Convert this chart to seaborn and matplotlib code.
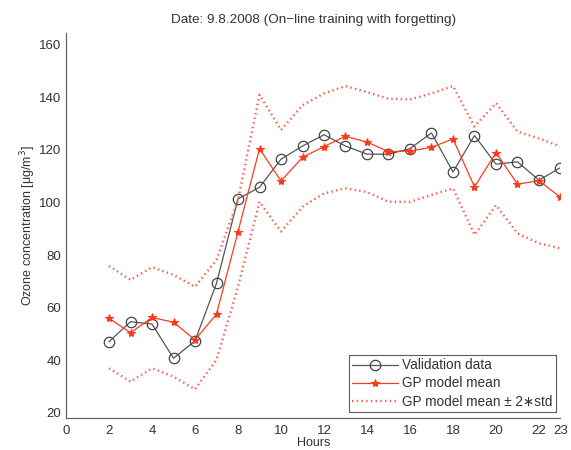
import numpy as np
import pandas as pd
import matplotlib.pyplot as plt
import seaborn as sns

# hourly values (9.8.2008)
hours = list(range(2, 24))
validation = [47.1, 54.7, 53.8, 40.8, 47.4, 69.3, 101.4, 105.8, 116.5, 121.5, 125.8, 121.5,
              118.4, 118.4, 120.5, 126.5, 111.6, 125.5, 114.6, 115.5, 108.5, 113.3]
gp_mean = [56.0, 50.5, 56.3, 54.5, 47.8, 57.6, 88.9, 120.5, 108.2, 117.2, 121.3, 125.2,
           123.0, 119.4, 119.6, 121.0, 124.2, 106.0, 119.0, 107.0, 108.3, 102.0]
gp_upper = [75.9, 70.6, 75.4, 72.5, 68.0, 78.2, 101.0, 141.0, 127.6, 137.0, 141.5, 144.3,
            142.0, 139.5, 139.2, 141.5, 144.3, 128.9, 137.8, 127.0, 124.4, 121.3]
gp_lower = [37.0, 31.9, 37.0, 33.8, 29.0, 40.2, 68.0, 100.3, 89.0, 98.4, 103.5, 105.4,
            104.0, 100.3, 100.3, 102.9, 105.4, 87.7, 99.0, 88.3, 84.5, 82.6]

xticks = [0, 2, 4, 6, 8, 10, 12, 14, 16, 18, 20, 22, 23]
yticks = [20, 40, 60, 80, 100, 120, 140, 160]

df = pd.DataFrame({"hour": hours, "validation": validation, "mean": gp_mean,
                   "upper": gp_upper, "lower": gp_lower})

sns.set_style("white")
plt.rcParams['font.family'] = ['Liberation Sans', 'DejaVu Sans']

fig = plt.figure(figsize=(5.71, 4.5), dpi=100)
ax = fig.add_axes([0.1156, 0.0718, 0.866, 0.855])

red = "#ff3a1c"
band = "#ff5a4a"

sns.lineplot(data=df, x="hour", y="validation", ax=ax, color="#555555", lw=0.9,
             marker="o", markersize=7.5, markerfacecolor="none", markeredgecolor="#444444",
             markeredgewidth=0.9, label="Validation data")
sns.lineplot(data=df, x="hour", y="mean", ax=ax, color=red, lw=0.9,
             marker="*", markersize=6, markeredgecolor=red, markerfacecolor=red,
             label="GP model mean")
sns.lineplot(data=df, x="hour", y="upper", ax=ax, color=band, lw=1.7,
             linestyle=(0, (0.6, 1.4)), label="GP model mean \u00b1 2\u2217std")
sns.lineplot(data=df, x="hour", y="lower", ax=ax, color=band, lw=1.7,
             linestyle=(0, (0.6, 1.4)))

ax.set_xlim(0, 23)
ax.set_ylim(18.2, 164.5)
ax.set_xticks(xticks)
ax.set_yticks(yticks)
ax.tick_params(direction="in", length=4, width=0.8, colors="#444444", labelsize=9.5,
               labelcolor="#333333")
ax.tick_params(axis="x", pad=5)
for s in ["top", "right"]:
    ax.spines[s].set_visible(False)
for s in ["left", "bottom"]:
    ax.spines[s].set_color("#666666")
    ax.spines[s].set_linewidth(0.9)

ax.set_title("Date: 9.8.2008 (On\u2212line training with forgetting)", fontsize=9.7,
             color="#333333", pad=7)
ax.set_xlabel("Hours", fontsize=9, color="#333333", labelpad=0)
ax.set_ylabel("Ozone concentration [\u03bcg/m$^3$]", fontsize=9, color="#333333", labelpad=1)

leg = ax.legend(loc="lower right", bbox_to_anchor=(0.99, 0.015), fontsize=9.8,
                frameon=True, fancybox=False, borderpad=0.25, labelspacing=0.3,
                handlelength=3.4, handletextpad=0.25, borderaxespad=0)
leg.get_frame().set_edgecolor("#333333")
leg.get_frame().set_linewidth(0.8)
for t in leg.get_texts():
    t.set_color("#333333")

fig.savefig("out.png", dpi=100)
